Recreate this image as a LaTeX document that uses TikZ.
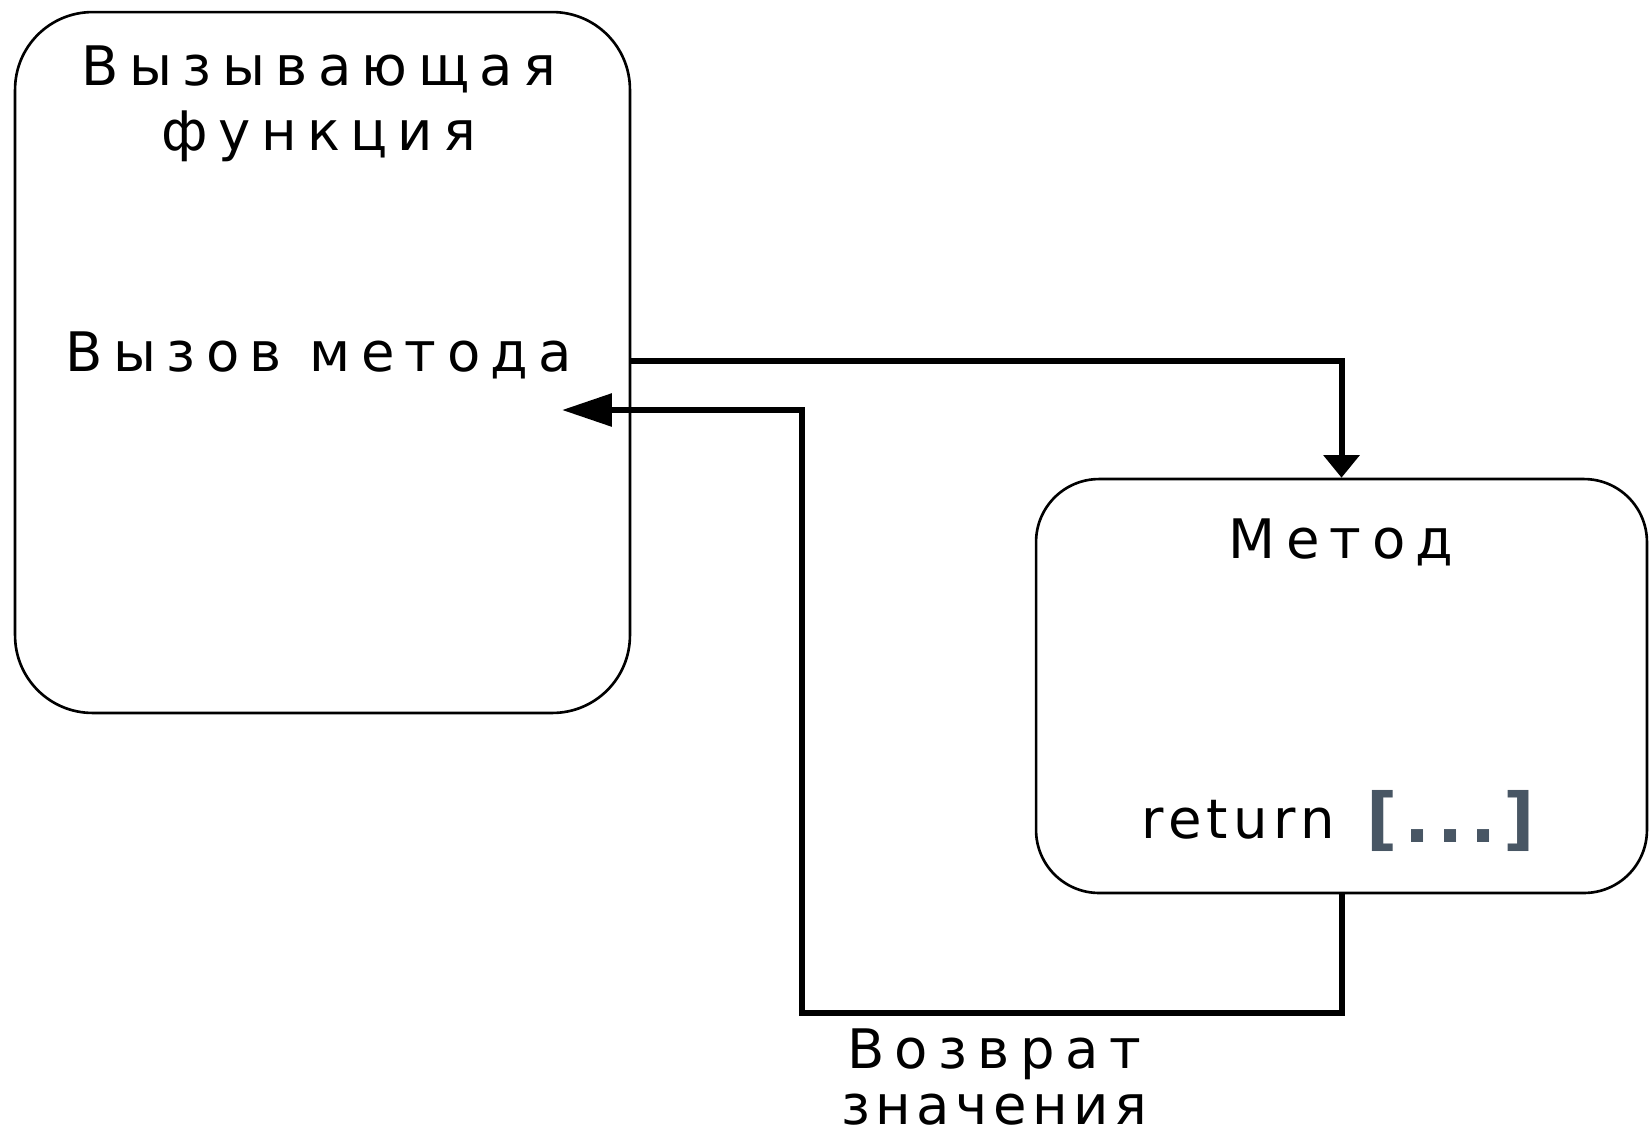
\documentclass[tikz,border=0pt]{standalone}
\usepackage{fontspec}
\setmainfont{DejaVu Sans}
\newfontfamily\labelfont[LetterSpace=19]{DejaVu Sans}
\newfontfamily\tightfont[LetterSpace=10]{DejaVu Sans}
\newfontfamily\codefont[LetterSpace=10]{DejaVu Sans}
\usetikzlibrary{arrows.meta}

\definecolor{slate}{RGB}{72,86,100}

\begin{document}
\begin{tikzpicture}[x=0.02cm,y=-0.02cm,
    block/.style={draw,line width=1.5pt,inner sep=0pt},
    lbl/.style={inner sep=0pt,align=center,font=\labelfont\fontsize{31}{37}\selectfont},
    flow/.style={line width=3.4pt}]
  \useasboundingbox (0,0) rectangle (1652,1137);
  % the two blocks
  \node[block,rounded corners=1.55cm,minimum width=12.3cm,minimum height=14.02cm] (caller) at (322.5,362.5) {};
  \node[block,rounded corners=1.26cm,minimum width=12.22cm,minimum height=8.28cm] (method) at (1341.5,686) {};
  % texts
  \node[lbl] (callertitle) at (319,104) {Вызывающая\\функция};
  \node[lbl,anchor=base] (callline) at (319,371) {Вызов метода};
  \node[lbl,anchor=base] (methodtitle) at (1341,558) {Метод};
  \node[lbl,font=\tightfont\fontsize{31}{37}\selectfont,anchor=base west] (ret) at (1141,838) {return};
  \node[inner sep=0pt,anchor=base west,text=slate,font=\codefont\bfseries\fontsize{39}{40}\selectfont] (retval) at (1366,842) {[...]};
  \node[lbl,font=\fontsize{31}{32}\selectfont] (retlabel) at (994,1077) {{\labelfont Возврат}\\{\tightfont значения}};
  % connectors
  \coordinate (callout) at (630,361);
  \coordinate (retlow) at (802,1013);
  \coordinate (rettip) at (562,410);
  \draw[flow,-{Triangle[length=0.45cm,width=0.7cm]}] (callout) -| (method.north);
  \draw[flow,-{Triangle[length=1cm,width=0.64cm]}] (method.south) |- (retlow) |- (rettip);
\end{tikzpicture}
\end{document}
